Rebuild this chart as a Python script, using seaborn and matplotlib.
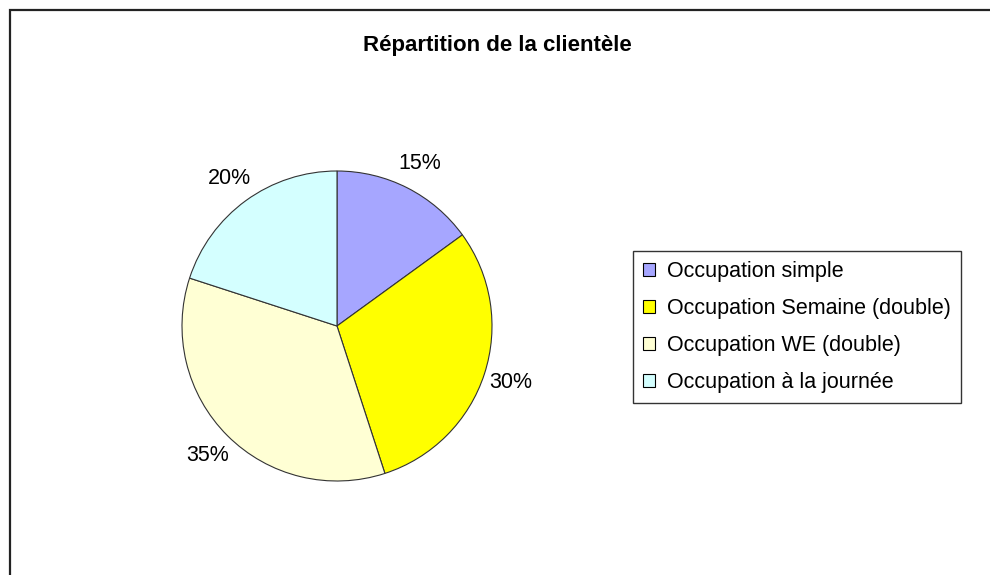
import matplotlib
matplotlib.use("Agg")
import matplotlib.pyplot as plt
import seaborn as sns
from matplotlib.patches import Patch, Rectangle

# Data
categories = ["Occupation simple", "Occupation Semaine (double)",
              "Occupation WE (double)", "Occupation à la journée"]
shares = [15, 30, 35, 20]
colors = ["#A6A6FF", "#FFFF00", "#FFFFD4", "#D4FFFF"]
title = "Répartition de la clientèle"

sns.set_theme(style="white")
plt.rcParams["font.family"] = ["Liberation Sans", "DejaVu Sans"]
plt.rcParams["text.color"] = "black"

W, H = 990, 575
fig = plt.figure(figsize=(W / 100, H / 100), dpi=100)
fig.patch.set_facecolor("white")

# outer chart frame (only top and left edges visible in the crop)
fig.patches.append(Rectangle((10 / W, -0.5), 2, 1.5 - 10 / H, transform=fig.transFigure,
                             fill=False, edgecolor="#222222", linewidth=1.6, zorder=0))

# pie axes: centre (337, 326) px, radius 155 px
cx, cy, r = 337, 326, 155
ax = fig.add_axes([(cx - r) / W, (H - cy - r) / H, 2 * r / W, 2 * r / H])
wedges, texts, autotexts = ax.pie(
    shares, colors=colors, startangle=90, counterclock=False,
    autopct="%d%%", pctdistance=1.18,
    wedgeprops=dict(edgecolor="#333333", linewidth=0.8),
    textprops=dict(fontsize=15.5, color="black"),
)
ax.set_xlim(-1, 1)
ax.set_ylim(-1, 1)
ax.set_aspect("equal")
ax.axis("off")

fig.text(497 / W, 1 - 45 / H, title, ha="center", va="center",
         fontsize=16, fontweight="bold", color="black")

handles = [Patch(facecolor=c, edgecolor="black", linewidth=0.8) for c in colors]
leg = fig.legend(handles, categories, loc="upper left",
                 bbox_to_anchor=(633 / W, 1 - 251 / H),
                 frameon=True, fancybox=False, fontsize=15.5,
                 handlelength=0.55, handleheight=0.55, handletextpad=0.6,
                 labelspacing=0.75, borderpad=0.45, borderaxespad=0)
leg.get_frame().set_edgecolor("black")
leg.get_frame().set_linewidth(1.0)
for t in leg.get_texts():
    t.set_color("black")

fig.savefig("out.png", dpi=100)
